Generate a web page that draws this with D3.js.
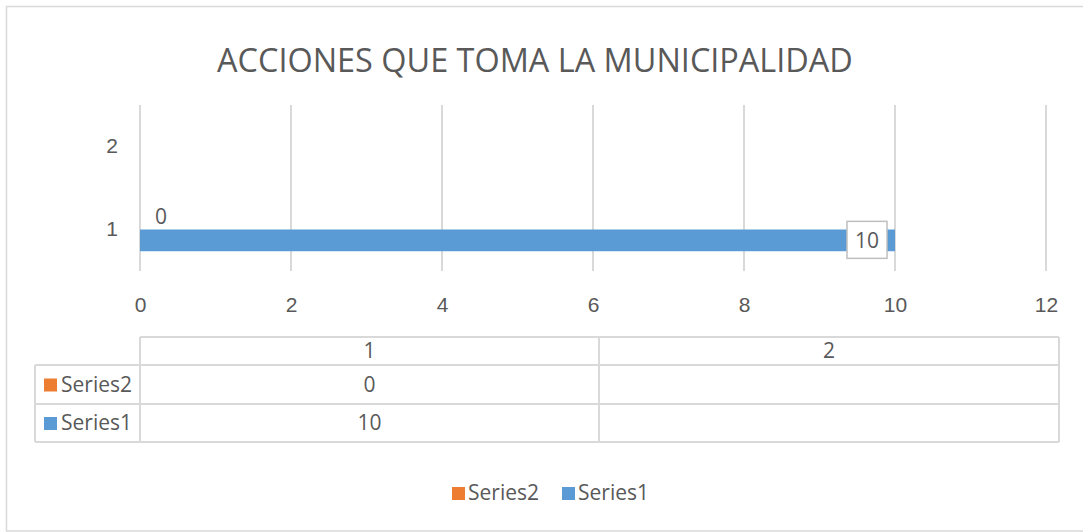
<!DOCTYPE html>
<html>
<head>
<meta charset="utf-8">
<script src="https://cdn.jsdelivr.net/npm/d3@7"></script>
<style>
  body { margin: 0; background: #fff; }
  svg { display: block; font-family: "Open Sans", sans-serif; }
</style>
</head>
<body>
<div id="chart"></div>
<script>
// chart data
var title = 'ACCIONES QUE TOMA LA MUNICIPALIDAD';
var categories = ['1', '2'];
var seriesNames = ['Series2', 'Series1'];
var series1 = [10, null];
var series2 = [0, null];
var xTicks = [0, 2, 4, 6, 8, 10, 12];

var seriesValues = { Series1: series1, Series2: series2 };
var colors = { Series1: '#5b9bd5', Series2: '#ed7d31' };
var textColor = '#595959';
var gridColor = '#d9d9d9';
var fs = '21px';

var W = 1083, H = 532;
var svg = d3.select('#chart').append('svg').attr('width', W).attr('height', H);

// outer chart border
svg.append('rect')
  .attr('x', 6.5).attr('y', 6.5)
  .attr('width', 1100).attr('height', 524.5)
  .attr('fill', '#fff')
  .attr('stroke', gridColor).attr('stroke-width', 1.5);

// title, fitted to the reference width
var t = svg.append('text')
  .attr('x', 535).attr('y', 72)
  .attr('text-anchor', 'middle')
  .attr('fill', textColor)
  .style('font-size', '33px')
  .text(title);
var tw = t.node().getComputedTextLength();
t.style('font-size', (33 * 636 / tw) + 'px');

// scales
var x = d3.scaleLinear().domain([0, 12]).range([140, 1046]);
var y = d3.scaleBand().domain(categories.slice().reverse()).range([105, 271]);
var ySeries = d3.scaleBand().domain(seriesNames).range([0, y.bandwidth()])
  .paddingInner(0).paddingOuter(0.91);

// vertical grid lines
svg.append('g').selectAll('line')
  .data(xTicks)
  .enter().append('line')
  .attr('x1', d => x(d)).attr('x2', d => x(d))
  .attr('y1', 105).attr('y2', 271)
  .attr('stroke', gridColor).attr('stroke-width', 2);

// x tick labels
var xAxis = d3.axisBottom(x).tickValues(xTicks).tickSize(0).tickPadding(0);
var gx = svg.append('g')
  .attr('transform', 'translate(0,' + 297 + ')')
  .call(xAxis);
gx.select('.domain').remove();
gx.selectAll('text').attr('fill', textColor).style('font-size', fs);

// category axis labels
var yAxis = d3.axisLeft(y).tickSize(0).tickPadding(22);
var gy = svg.append('g').attr('transform', 'translate(140,0)').call(yAxis);
gy.select('.domain').remove();
gy.selectAll('text').attr('fill', textColor).style('font-size', fs);

// bars
seriesNames.forEach(function (s) {
  var vals = seriesValues[s];
  svg.append('g').selectAll('rect')
    .data(categories.map((c, i) => ({ cat: c, v: vals[i] })).filter(d => d.v != null))
    .enter().append('rect')
    .attr('x', x(0))
    .attr('y', d => y(d.cat) + ySeries(s))
    .attr('width', d => x(d.v) - x(0))
    .attr('height', ySeries.bandwidth())
    .attr('fill', colors[s]);
});

// data labels
categories.forEach(function (c, i) {
  // Series2: outside end
  if (series2[i] != null) {
    svg.append('text')
      .attr('x', x(series2[i]) + 21)
      .attr('y', y(c) + ySeries('Series2') + ySeries.bandwidth() / 2 - 2)
      .attr('text-anchor', 'middle').attr('dy', '0.35em')
      .attr('fill', textColor).style('font-size', fs)
      .text(series2[i]);
  }
  // Series1: inside end with a box
  if (series1[i] != null) {
    var cy = y(c) + ySeries('Series1') + ySeries.bandwidth() / 2;
    var cx = x(series1[i]) - 28;
    svg.append('rect')
      .attr('x', cx - 20).attr('y', cy - 19)
      .attr('width', 40).attr('height', 37)
      .attr('fill', '#fff').attr('stroke', '#bfbfbf').attr('stroke-width', 1.5);
    svg.append('text')
      .attr('x', cx).attr('y', cy)
      .attr('text-anchor', 'middle').attr('dy', '0.35em')
      .attr('fill', textColor).style('font-size', fs)
      .text(series1[i]);
  }
});

// data table
var colX = [140, 599, 1059];
var rowY = [337, 365, 404, 442];
var tbl = svg.append('g').attr('stroke', gridColor).attr('stroke-width', 2);
tbl.append('line').attr('x1', 140).attr('x2', 1059).attr('y1', rowY[0]).attr('y2', rowY[0]);
[1, 2, 3].forEach(function (r) {
  tbl.append('line').attr('x1', 35).attr('x2', 1059).attr('y1', rowY[r]).attr('y2', rowY[r]);
});
tbl.append('line').attr('x1', 35).attr('x2', 35).attr('y1', rowY[1]).attr('y2', rowY[3]);
colX.forEach(function (cx) {
  tbl.append('line').attr('x1', cx).attr('x2', cx).attr('y1', rowY[0]).attr('y2', rowY[3]);
});

categories.forEach(function (c, i) {
  var mid = (colX[i] + colX[i + 1]) / 2;
  svg.append('text').attr('x', mid).attr('y', (rowY[0] + rowY[1]) / 2)
    .attr('text-anchor', 'middle').attr('dy', '0.35em')
    .attr('fill', textColor).style('font-size', fs).text(c);
  seriesNames.forEach(function (s, r) {
    var v = seriesValues[s][i];
    if (v == null) return;
    svg.append('text').attr('x', mid).attr('y', (rowY[r + 1] + rowY[r + 2]) / 2)
      .attr('text-anchor', 'middle').attr('dy', '0.35em')
      .attr('fill', textColor).style('font-size', fs).text(v);
  });
});

seriesNames.forEach(function (s, r) {
  var cy = (rowY[r + 1] + rowY[r + 2]) / 2;
  svg.append('rect').attr('x', 44).attr('y', cy - 6)
    .attr('width', 13).attr('height', 13).attr('fill', colors[s]);
  svg.append('text').attr('x', 61).attr('y', cy)
    .attr('dy', '0.35em').attr('fill', textColor)
    .style('font-size', fs).text(s);
});

// bottom legend
var legendX = [452, 562];
seriesNames.forEach(function (s, i) {
  var lg = svg.append('g').attr('transform', 'translate(' + legendX[i] + ',493)');
  lg.append('rect').attr('x', 0).attr('y', -6).attr('width', 13).attr('height', 13)
    .attr('fill', colors[s]);
  lg.append('text').attr('x', 16).attr('y', 0).attr('dy', '0.35em')
    .attr('fill', textColor).style('font-size', fs).text(s);
});
</script>
</body>
</html>
